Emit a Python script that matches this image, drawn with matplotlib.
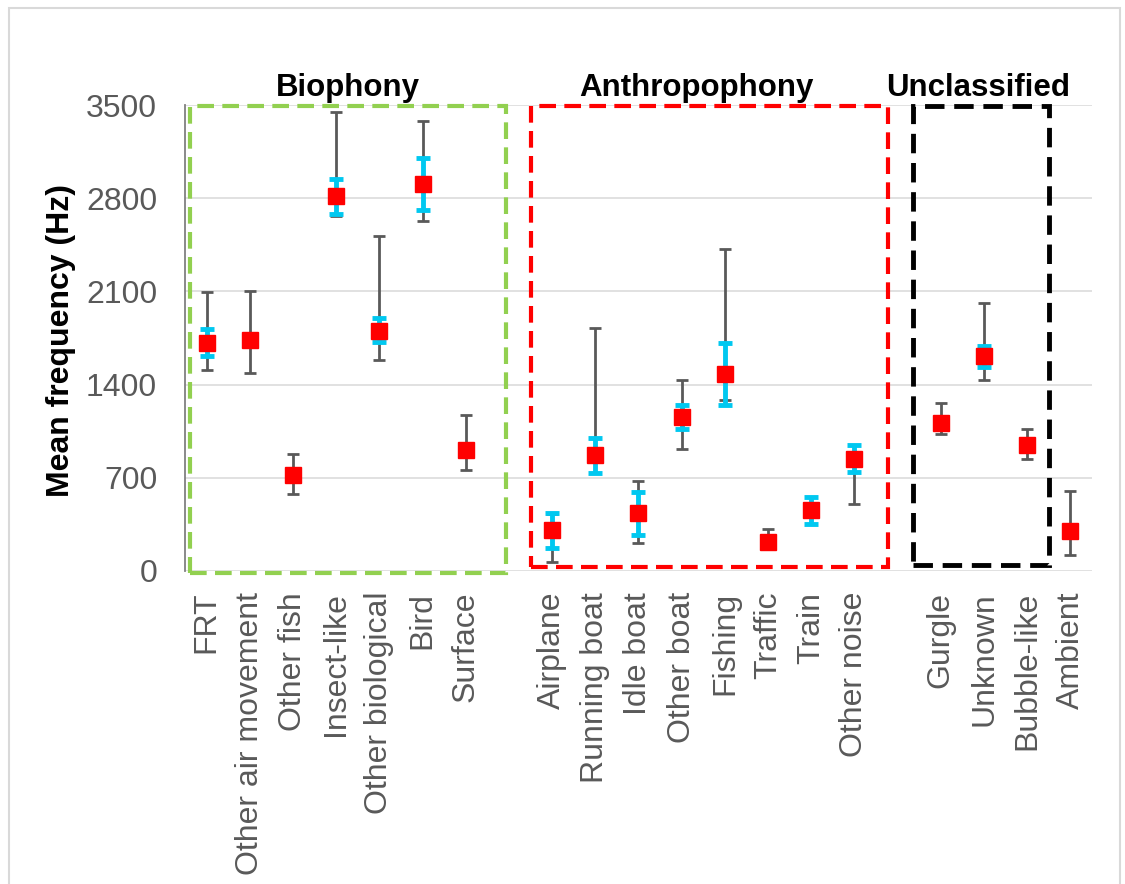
import matplotlib
matplotlib.use("Agg")
import matplotlib.pyplot as plt
from matplotlib.patches import Rectangle
import numpy as np

plt.rcParams["font.family"] = ["Liberation Sans", "DejaVu Sans"]

# Data
bio_cats = ["FRT", "Other air movement", "Other fish", "Insect-like",
            "Other biological", "Bird", "Surface"]
anthro_cats = ["Airplane", "Running boat", "Idle boat", "Other boat",
               "Fishing", "Traffic", "Train", "Other noise"]
uncl_cats = ["Gurgle", "Unknown", "Bubble-like", "Ambient"]

mean_freq = [1714, 1734, 723, 2818, 1806, 2908, 906,
             306, 872, 433, 1157, 1480, 220, 456, 842,
             1108, 1616, 947, 297]
range_low = [1508, 1488, 577, 2665, 1588, 2627, 758,
             70, 735, 213, 916, 1287, 165, 353, 503,
             1028, 1432, 842, 121]
range_high = [2095, 2100, 881, 3445, 2517, 3377, 1172,
              430, 1824, 676, 1438, 2421, 313, 558, 946,
              1262, 2010, 1063, 598]
ci_low = [1613, np.nan, np.nan, 2682, 1721, 2712, np.nan,
          175, 738, 270, 1066, 1250, np.nan, 353, 746,
          np.nan, 1533, np.nan, np.nan]
ci_high = [1819, np.nan, np.nan, 2943, 1897, 3104, np.nan,
           436, 997, 596, 1250, 1714, np.nan, 558, 946,
           np.nan, 1691, np.nan, np.nan]

# x slots: one empty slot between groups
groups = [bio_cats, anthro_cats, uncl_cats[:3], uncl_cats[3:]]
x = []
labels = []
slot = 0
for gi, g in enumerate(groups):
    for c in g:
        x.append(slot)
        labels.append(c)
        slot += 1
    if gi < 2:
        slot += 1
x = np.array(x)
mean_freq = np.array(mean_freq)
range_low = np.array(range_low)
range_high = np.array(range_high)
ci_low = np.array(ci_low)
ci_high = np.array(ci_high)

fig = plt.figure(figsize=(11.25, 8.84), dpi=100)
ax = fig.add_axes([0.1644, 0.3541, 0.8063, 0.5271])

# outer chart border
fig.patches.append(Rectangle((9 / 1125, -0.02), 1111 / 1125, 1.02 - 8 / 884,
                             transform=fig.transFigure, fill=False,
                             edgecolor="#d9d9d9", lw=1.5))

ax.set_xlim(-0.5, 20.5)
ax.set_ylim(0, 3500)
ax.set_yticks(np.arange(0, 3501, 700))
ax.grid(axis="y", color="#d9d9d9", lw=1.1)
ax.set_axisbelow(True)
for s in ["top", "right", "bottom"]:
    ax.spines[s].set_visible(False)
ax.spines["left"].set_color("#808080")
ax.spines["left"].set_linewidth(1.3)

ax.errorbar(x, mean_freq, yerr=[mean_freq - range_low, range_high - mean_freq],
            fmt="none", ecolor="#595959", elinewidth=2.0, capsize=4.3,
            capthick=2.0, zorder=3)
m = ~np.isnan(ci_low)
ax.errorbar(x[m], mean_freq[m], yerr=[mean_freq[m] - ci_low[m], ci_high[m] - mean_freq[m]],
            fmt="none", ecolor="#00c8f0", elinewidth=3.5, capsize=5,
            capthick=3.5, zorder=4)
ax.plot(x, mean_freq, ls="none", marker="s", ms=11.5, color="#ff0000", zorder=5)

ax.set_xticks(x)
ax.set_xticklabels(labels, rotation=90, fontsize=23, color="#595959", va="top")
ax.tick_params(axis="x", length=0, pad=15)
ax.tick_params(axis="y", length=0, pad=20, labelsize=23, labelcolor="#595959")

fig.text(61 / 1125, 0.615, "Mean frequency (Hz)", rotation=90, ha="center",
         va="center", fontsize=23, fontweight="bold")

# group boxes
boxes = [(-0.38, 6.93, -15, 3490, "#92d050", 3.0),
         (7.51, 15.77, 32, 3490, "#ff0000", 3.0),
         (16.35, 19.5, 45, 3490, "#000000", 3.5)]
for x0, x1, y0, y1, col, lw in boxes:
    ax.add_patch(Rectangle((x0, y0), x1 - x0, y1 - y0, fill=False,
                           edgecolor=col, lw=lw, ls=(0, (4, 2)),
                           clip_on=False, zorder=2))

group_names = ["Biophony", "Anthropophony", "Unclassified"]
name_x = [3.27, 11.35, 17.86]
for nm, nx in zip(group_names, name_x):
    ax.text(nx, 1.037, nm, transform=ax.get_xaxis_transform(), ha="center",
            va="center", fontsize=22.5, fontweight="bold")

fig.savefig("out.png", dpi=100)
